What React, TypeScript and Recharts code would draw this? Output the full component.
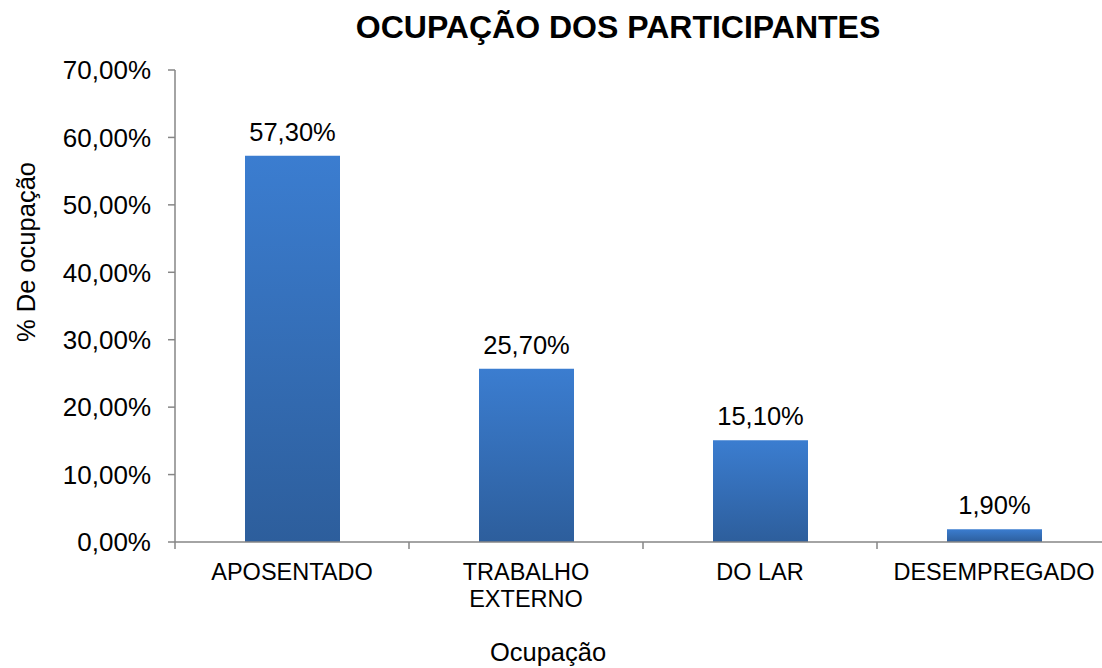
import React from 'react';
import { BarChart, Bar, XAxis, YAxis, LabelList } from 'recharts';

const categories = ['APOSENTADO', 'TRABALHO\nEXTERNO', 'DO LAR', 'DESEMPREGADO'];
const percentages = [57.3, 25.7, 15.1, 1.9];
const yTicks = [0, 10, 20, 30, 40, 50, 60, 70];

const data = categories.map((name, i) => ({ name, value: percentages[i] }));

const FONT = '"Liberation Sans", Arial, sans-serif';
const AXIS_COLOR = '#868686';

const fmtPct = (v: number) => `${v.toFixed(2).replace('.', ',')}%`;

function CategoryTick({ x, y, payload }: any) {
  const half = payload && payload.offset ? payload.offset : 117;
  const lines = String(payload.value).split('\n');
  return (
    <g>
      <line x1={x - half} x2={x - half} y1={y} y2={y + 7} stroke={AXIS_COLOR} strokeWidth={1.5} />
      <text x={x} y={y + 38} textAnchor="middle" fontSize={23.5} fill="#000" fontFamily={FONT}>
        {lines.map((l, i) => (
          <tspan key={i} x={x} dy={i === 0 ? 0 : 27}>
            {l}
          </tspan>
        ))}
      </text>
    </g>
  );
}

export default function App() {
  return (
    <div
      style={{
        position: 'absolute',
        left: 0,
        top: 0,
        width: 1102,
        height: 668,
        overflow: 'hidden',
        background: '#fff',
        fontFamily: FONT,
      }}
    >
      <BarChart
        width={1120}
        height={668}
        data={data}
        margin={{ top: 70, right: 9, left: 0, bottom: 66 }}
      >
        <defs>
          <linearGradient id="barFill" x1="0" y1="0" x2="0" y2="1">
            <stop offset="0%" stopColor="#3b7dd0" />
            <stop offset="100%" stopColor="#2d5e9c" />
          </linearGradient>
        </defs>
        <XAxis
          dataKey="name"
          height={60}
          tickLine={false}
          tickSize={0}
          tickMargin={0}
          interval={0}
          axisLine={{ stroke: AXIS_COLOR, strokeWidth: 1.5 }}
          tick={<CategoryTick />}
        />
        <YAxis
          width={175}
          domain={[0, 70]}
          ticks={yTicks}
          tickFormatter={fmtPct}
          tickSize={7}
          tickMargin={17}
          axisLine={{ stroke: AXIS_COLOR, strokeWidth: 1.5 }}
          tickLine={{ stroke: AXIS_COLOR, strokeWidth: 1.5 }}
          tick={{ fontSize: 26, fill: '#000', fontFamily: FONT }}
        />
        <Bar dataKey="value" fill="url(#barFill)" barSize={95} isAnimationActive={false}>
          <LabelList
            dataKey="value"
            position="top"
            offset={15}
            formatter={(v: any) => fmtPct(Number(v))}
            style={{ fontSize: 25.5, fill: '#000', fontFamily: FONT }}
          />
        </Bar>
      </BarChart>
      <svg
        width={1102}
        height={668}
        style={{ position: 'absolute', left: 0, top: 0, pointerEvents: 'none' }}
      >
        <text x={618} y={38} textAnchor="middle" fontSize={32} fontWeight="bold" fill="#000" fontFamily={FONT}>
          OCUPAÇÃO DOS PARTICIPANTES
        </text>
        <text
          x={0}
          y={0}
          transform="translate(35 252) rotate(-90)"
          textAnchor="middle"
          fontSize={25.5}
          fill="#000"
          fontFamily={FONT}
        >
          % De ocupação
        </text>
        <text x={548} y={661} textAnchor="middle" fontSize={25.5} fill="#000" fontFamily={FONT}>
          Ocupação
        </text>
      </svg>
    </div>
  );
}
